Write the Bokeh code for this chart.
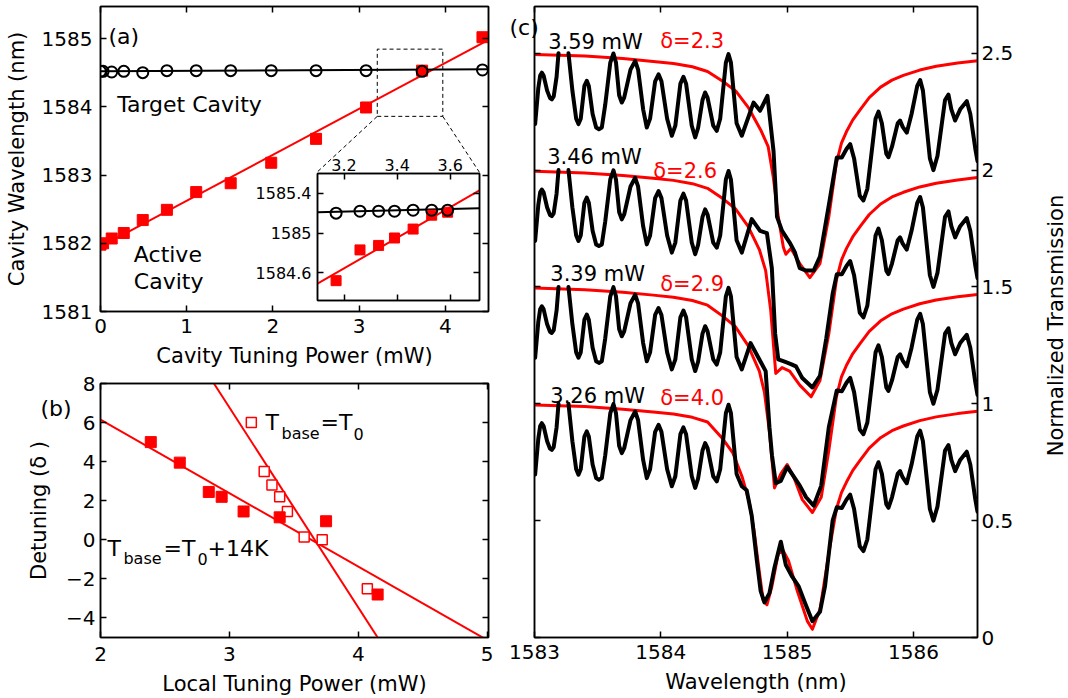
import math
import numpy as np
from bokeh.plotting import figure
from bokeh.models import Range1d, LinearAxis, FixedTicker, Label, CustomJSTickFormatter
from bokeh.layouts import column, row
from bokeh.embed import file_html
from bokeh.resources import INLINE

FONT = "DejaVu Sans"
NaN = float("nan")

# ---------------- Panel (a) data ----------------
tuning_power_a = [0.0, 0.03, 0.13, 0.27, 0.49, 0.77, 1.11, 1.51, 1.98, 2.50, 3.08, 3.73, 4.43]
active_wl_a = [1581.98, 1582.00, 1582.07, 1582.15, 1582.34, 1582.49, 1582.75, 1582.88, 1583.18, 1583.53, 1583.99, 1584.53, 1585.02]
target_wl_a = [1584.52, 1584.52, 1584.51, 1584.52, 1584.50, 1584.53, 1584.53, 1584.53, 1584.53, 1584.53, 1584.53, 1584.52, 1584.54]
fit_active_x = [0.0, 4.5]
fit_active_y = [1581.95, 1584.98]
fit_target_x = [0.0, 4.5]
fit_target_y = [1584.52, 1584.55]
zoom_box_x = [3.21, 3.97, 3.97, 3.21, 3.21]
zoom_box_y = [1583.86, 1583.86, 1584.845, 1584.845, 1583.86]
connector_l_x = [3.21, 2.51]
connector_r_x = [3.97, 4.395]
connector_y = [1583.86, 1583.04]

# inset of (a)
inset_power = [3.17, 3.26, 3.33, 3.39, 3.46, 3.53, 3.59]
inset_active = [1584.52, 1584.83, 1584.875, 1584.95, 1585.04, 1585.18, 1585.21]
inset_target = [1585.20, 1585.22, 1585.22, 1585.22, 1585.23, 1585.23, 1585.23]
inset_fit_x = [3.1, 3.71]
inset_fit_active_y = [1584.49, 1585.43]
inset_fit_target_y = [1585.21, 1585.25]

# ---------------- Panel (b) data ----------------
hot_power_b = [2.39, 2.615, 2.84, 2.94, 3.11, 3.39, 3.75, 4.15]
hot_detuning_b = [5.0, 3.95, 2.45, 2.2, 1.45, 1.15, 0.95, -2.8]
cold_power_b = [3.17, 3.27, 3.33, 3.39, 3.45, 3.58, 3.72, 4.07]
cold_detuning_b = [6.0, 3.5, 2.8, 2.2, 1.45, 0.15, 0.0, -2.5]
fit_hot_x = [2.0, 5.01]
fit_hot_y = [6.15, -5.17]
fit_cold_x = [2.88, 4.15]
fit_cold_y = [8.0, -5.0]

# ---------------- Panel (c) data ----------------
trace_powers = ["3.59 mW", "3.46 mW", "3.39 mW", "3.26 mW"]
trace_deltas = ["\u03b4=2.3", "\u03b4=2.6", "\u03b4=2.9", "\u03b4=4.0"]
trace_offsets = [1.5, 1.0, 0.5, 0.0]

# measured transmission: common ripple left / right of the resonance
ripple_l_wl = [1583.005, 1583.03, 1583.045, 1583.058, 1583.072, 1583.10, 1583.123, 1583.137, 1583.152,
               1583.175, 1583.190, NaN, 1583.269, 1583.30, 1583.33, 1583.348, 1583.366, 1583.395,
               1583.414, 1583.43, 1583.46, 1583.488, 1583.51, 1583.533, 1583.56, 1583.60, 1583.625,
               1583.645, 1583.67, 1583.691, 1583.71, 1583.76, 1583.797, 1583.82, 1583.86, 1583.889,
               1583.915, 1583.955, 1583.982, 1584.005, 1584.05, 1584.087, 1584.115, 1584.155, 1584.179,
               1584.20, 1584.245, 1584.272, 1584.295, 1584.33, 1584.351, 1584.37, 1584.415, 1584.443,
               1584.47, 1584.515, 1584.536, 1584.555, 1584.60, 1584.641]
ripple_l_t = [0.697, 0.85, 0.905, 0.917, 0.905, 0.84, 0.808, 0.803, 0.815,
              0.90, 1.0, NaN, 1.0, 0.84, 0.72, 0.697, 0.72, 0.86,
              0.882, 0.86, 0.74, 0.682, 0.675, 0.682, 0.78, 0.96, 0.999,
              0.96, 0.82, 0.789, 0.81, 0.93, 0.967, 0.93, 0.76, 0.682,
              0.72, 0.88, 0.910, 0.88, 0.72, 0.647, 0.69, 0.87, 0.899,
              0.87, 0.69, 0.640, 0.68, 0.80, 0.832, 0.81, 0.69, 0.668,
              0.72, 0.96, 0.996, 0.96, 0.70, 0.647]
ripple_r_wl = [1585.433, 1585.47, 1585.499, 1585.53, 1585.575, 1585.604, 1585.635, 1585.70, 1585.723,
               1585.75, 1585.785, 1585.802, 1585.83, 1585.875, 1585.894, 1585.915, 1585.947, 1585.985,
               1586.03, 1586.053, 1586.075, 1586.13, 1586.158, 1586.19, 1586.25, 1586.277, 1586.30,
               1586.33, 1586.37, 1586.422, 1586.45, 1586.49, 1586.507]
ripple_r_t = [0.554, 0.59, 0.611, 0.55, 0.39, 0.37, 0.42, 0.72, 0.75,
              0.70, 0.57, 0.555, 0.60, 0.70, 0.712, 0.685, 0.66, 0.74,
              0.86, 0.885, 0.84, 0.55, 0.50, 0.56, 0.80, 0.823, 0.76,
              0.712, 0.76, 0.795, 0.74, 0.59, 0.538]

# measured transmission around the resonance, per trace
dip359_wl = [1584.734, 1584.786, 1584.844, 1584.892, 1584.92, 1584.96, 1585.02, 1585.06, 1585.10,
             1585.15, 1585.21, 1585.26, 1585.33, 1585.393]
dip359_t = [0.789, 0.754, 0.818, 0.583, 0.30, 0.24, 0.19, 0.15, 0.08, 0.07, 0.07, 0.13, 0.35, 0.554]
dip346_wl = [1584.72, 1584.786, 1584.84, 1584.879, 1584.905, 1584.93, 1584.98, 1585.03, 1585.07,
             1585.12, 1585.2, 1585.26, 1585.31, 1585.36, 1585.393]
dip346_t = [0.79, 0.74, 0.73, 0.58, 0.30, 0.19, 0.18, 0.17, 0.16, 0.11, 0.07, 0.12, 0.28, 0.47, 0.554]
dip339_wl = [1584.71, 1584.79, 1584.83, 1584.86, 1584.88, 1584.91, 1584.95, 1585.0, 1585.05, 1585.10,
             1585.15, 1585.21, 1585.27, 1585.33, 1585.393]
dip339_t = [0.76, 0.68, 0.64, 0.40, 0.28, 0.16, 0.17, 0.23, 0.19, 0.15, 0.10, 0.064, 0.15, 0.40, 0.557]
dip326_wl = [1584.68, 1584.72, 1584.76, 1584.79, 1584.82, 1584.86, 1584.90, 1584.95, 1584.99, 1585.04,
             1585.09, 1585.14, 1585.20, 1585.26, 1585.30, 1585.36, 1585.393]
dip326_t = [0.63, 0.52, 0.33, 0.20, 0.15, 0.19, 0.30, 0.41, 0.31, 0.26, 0.22, 0.15, 0.07, 0.11, 0.22, 0.50, 0.557]

# coupled-mode fits: common wings plus per-trace resonance part
fit_l_wl = [1583.0, 1583.4, 1583.7, 1583.94, 1584.1, 1584.25, 1584.37]
fit_l_t = [0.995, 0.988, 0.977, 0.965, 0.956, 0.942, 0.922]
fit_r_wl = [1585.52, 1585.58, 1585.65, 1585.74, 1585.83, 1585.92, 1586.05, 1586.18, 1586.35, 1586.507]
fit_r_t = [0.715, 0.76, 0.81, 0.855, 0.885, 0.905, 0.928, 0.944, 0.958, 0.968]
fit359_wl = [1584.49, 1584.594, 1584.695, 1584.795, 1584.85, 1584.89, 1584.93, 1584.97, 1584.99, 1585.03,
             1585.10, 1585.18, 1585.26, 1585.33, 1585.39, 1585.43, 1585.47]
fit359_t = [0.880, 0.838, 0.766, 0.667, 0.60, 0.47, 0.30, 0.17, 0.14, 0.165, 0.10, 0.04, 0.10, 0.30, 0.53,
            0.615, 0.665]
fit346_wl = [1584.49, 1584.59, 1584.69, 1584.78, 1584.83, 1584.87, 1584.91, 1584.96, 1585.02, 1585.10,
             1585.19, 1585.26, 1585.33, 1585.39, 1585.43, 1585.47]
fit346_t = [0.878, 0.835, 0.76, 0.66, 0.57, 0.40, 0.13, 0.155, 0.14, 0.08, 0.03, 0.10, 0.30, 0.53, 0.615,
            0.665]
fit339_wl = [1584.49, 1584.59, 1584.69, 1584.78, 1584.82, 1584.86, 1584.90, 1584.95, 1585.0, 1585.05,
             1585.12, 1585.2, 1585.27, 1585.33, 1585.39, 1585.43, 1585.47]
fit339_t = [0.875, 0.83, 0.75, 0.64, 0.55, 0.38, 0.14, 0.20, 0.24, 0.19, 0.09, 0.035, 0.10, 0.30, 0.53,
            0.615, 0.665]
fit326_wl = [1584.49, 1584.57, 1584.645, 1584.70, 1584.74, 1584.78, 1584.81, 1584.84, 1584.88, 1584.93,
             1584.97, 1585.01, 1585.08, 1585.16, 1585.2, 1585.26, 1585.33, 1585.39, 1585.43, 1585.47]
fit326_t = [0.85, 0.79, 0.685, 0.58, 0.45, 0.28, 0.16, 0.14, 0.22, 0.36, 0.37, 0.33, 0.20, 0.07, 0.035,
            0.12, 0.36, 0.55, 0.62, 0.665]

dips_wl = [dip359_wl, dip346_wl, dip339_wl, dip326_wl]
dips_t = [dip359_t, dip346_t, dip339_t, dip326_t]
fits_wl = [fit359_wl, fit346_wl, fit339_wl, fit326_wl]
fits_t = [fit359_t, fit346_t, fit339_t, fit326_t]

PLAIN = CustomJSTickFormatter(code="return tick.toString();")


def style_axis(ax, labels=True, tick_size="20px"):
    ax.major_tick_in = 6
    ax.major_tick_out = 0
    ax.minor_tick_in = 0
    ax.minor_tick_out = 0
    ax.axis_line_color = "black"
    ax.axis_line_width = 1.5
    ax.major_tick_line_color = "black"
    ax.major_tick_line_width = 1.5
    ax.major_label_text_font = FONT
    ax.major_label_text_color = "black"
    ax.axis_label_text_font = FONT
    ax.axis_label_text_font_style = "normal"
    ax.axis_label_text_font_size = "21px"
    ax.axis_label_text_color = "black"
    if labels:
        ax.major_label_text_font_size = tick_size
    else:
        ax.major_label_text_font_size = "1px"
        ax.major_label_text_color = None
        ax.major_label_standoff = 0


def base_fig(**kw):
    p = figure(output_backend="svg", toolbar_location=None, **kw)
    p.grid.visible = False
    p.outline_line_color = "black"
    p.outline_line_width = 1.5
    p.background_fill_color = "white"
    p.border_fill_color = "white"
    return p


def mirror(p, side, ticks):
    ax = LinearAxis(ticker=FixedTicker(ticks=ticks))
    style_axis(ax, labels=False)
    p.add_layout(ax, side)
    return ax


def label(p, x, y, text, size="22px", color="black", **kw):
    kw.setdefault("text_baseline", "alphabetic")
    p.add_layout(Label(x=x, y=y, text=text, text_font=FONT, text_font_size=size,
                       text_color=color, **kw))


# ================= Panel (a) =================
pa = base_fig(width=500, height=370, x_range=Range1d(0, 4.5), y_range=Range1d(1581, 1585.47),
              min_border_left=100, min_border_right=12, min_border_top=6, min_border_bottom=56)
xa = pa.below[0]
ya = pa.left[0]
xa.ticker = FixedTicker(ticks=[0, 1, 2, 3, 4])
ya.ticker = FixedTicker(ticks=[1581, 1582, 1583, 1584, 1585])
ya.formatter = PLAIN
for ax in (xa, ya):
    style_axis(ax)
xa.axis_label = "Cavity Tuning Power (mW)"
ya.axis_label = "Cavity Wavelength (nm)"
xa.major_label_standoff = 7
xa.axis_label_standoff = 8
ya.major_label_standoff = 8
ya.axis_label_standoff = 10
mirror(pa, "above", [0, 1, 2, 3, 4])
mirror(pa, "right", [1581, 1582, 1583, 1584, 1585])

pa.line(zoom_box_x, zoom_box_y, line_color="black", line_width=1, line_dash="4 3")
pa.line(connector_l_x, connector_y, line_color="black", line_width=1, line_dash="4 3")
pa.line(connector_r_x, connector_y, line_color="black", line_width=1, line_dash="4 3")
pa.line(fit_active_x, fit_active_y, line_color="red", line_width=2)
pa.line(fit_target_x, fit_target_y, line_color="black", line_width=2)
pa.scatter(tuning_power_a, active_wl_a, marker="square", size=11, fill_color="red", line_color="red")
pa.scatter(tuning_power_a, target_wl_a, marker="circle", size=11, fill_color=None, line_color="black",
           line_width=2)
label(pa, 0.093, 1585.03, "(a)")
label(pa, 0.193, 1584.03, "Target Cavity")
label(pa, 0.387, 1581.83, "Active")
label(pa, 0.387, 1581.44, "Cavity")

# ================= Inset of (a) =================
ins = base_fig(width=235, height=163, x_range=Range1d(3.1, 3.71), y_range=Range1d(1584.32, 1585.6),
               x_axis_location="above",
               min_border_left=67, min_border_right=6, min_border_top=28, min_border_bottom=8)
ins.border_fill_color = None
xi = ins.above[0]
yi = ins.left[0]
xi.ticker = FixedTicker(ticks=[3.2, 3.4, 3.6])
yi.ticker = FixedTicker(ticks=[1584.6, 1585.0, 1585.4])
xi.formatter = PLAIN
yi.formatter = PLAIN
style_axis(xi, tick_size="16px")
style_axis(yi, tick_size="16px")
xi.major_label_standoff = 3
yi.major_label_standoff = 6
mirror(ins, "below", [3.2, 3.4, 3.6])
mirror(ins, "right", [1584.6, 1585.0, 1585.4])
ins.line(inset_fit_x, inset_fit_active_y, line_color="red", line_width=2)
ins.line(inset_fit_x, inset_fit_target_y, line_color="black", line_width=2)
ins.scatter(inset_power, inset_active, marker="square", size=10, fill_color="red", line_color="red")
ins.scatter(inset_power, inset_target, marker="circle", size=11, fill_color=None, line_color="black",
            line_width=2)
ins.styles = {"position": "absolute", "left": "250px", "top": "145px", "z-index": "5"}

# ================= Panel (b) =================
pb = base_fig(width=500, height=328, x_range=Range1d(2, 5.01), y_range=Range1d(-5, 8),
              min_border_left=100, min_border_right=12, min_border_top=13, min_border_bottom=61)
xb = pb.below[0]
yb = pb.left[0]
xb.ticker = FixedTicker(ticks=[2, 3, 4, 5])
yb.ticker = FixedTicker(ticks=[-4, -2, 0, 2, 4, 6, 8])
for ax in (xb, yb):
    style_axis(ax)
xb.axis_label = "Local Tuning Power (mW)"
yb.axis_label = "Detuning (\u03b4 )"
xb.major_label_standoff = 9
xb.axis_label_standoff = 8
yb.major_label_standoff = 5
yb.axis_label_standoff = 12
mirror(pb, "above", [2, 3, 4, 5])
mirror(pb, "right", [-4, -2, 0, 2, 4, 6, 8])

pb.line(fit_hot_x, fit_hot_y, line_color="red", line_width=2)
pb.line(fit_cold_x, fit_cold_y, line_color="red", line_width=2)
pb.scatter(cold_power_b, cold_detuning_b, marker="square", size=10, fill_color="white", line_color="red",
           line_width=1.5)
pb.scatter(hot_power_b, hot_detuning_b, marker="square", size=11, fill_color="red", line_color="red")
# T_base = T_0
label(pb, 3.28, 6.0, "T")
label(pb, 3.404, 5.44, "base", size="16px")
label(pb, 3.707, 6.0, "=T")
label(pb, 3.963, 5.44, "0", size="16px")
# T_base = T_0 + 14K
label(pb, 2.054, -0.46, "T")
label(pb, 2.178, -0.97, "base", size="16px")
label(pb, 2.489, -0.46, "=T")
label(pb, 2.753, -0.97, "0", size="16px")
label(pb, 2.830, -0.46, "+14K")

# ================= Panel (c) =================
pc = base_fig(width=568, height=698, x_range=Range1d(1583, 1586.507), y_range=Range1d(0, 2.7),
              y_axis_location="right",
              min_border_left=34, min_border_right=91, min_border_top=6, min_border_bottom=61)
xc = pc.below[0]
yc = pc.right[0]
xc.ticker = FixedTicker(ticks=[1583, 1584, 1585, 1586])
yc.ticker = FixedTicker(ticks=[0, 0.5, 1, 1.5, 2, 2.5])
yc.formatter = PLAIN
for ax in (xc, yc):
    style_axis(ax)
xc.axis_label = "Wavelength (nm)"
xc.major_label_standoff = 7
xc.axis_label_standoff = 8
yc.major_label_standoff = 4
mirror(pc, "above", [1583, 1584, 1585, 1586])
mirror(pc, "left", [0, 0.5, 1, 1.5, 2, 2.5])

for i in range(4):
    rx = fit_l_wl + fits_wl[i] + fit_r_wl
    rt = np.array(fit_l_t + fits_t[i] + fit_r_t) + trace_offsets[i]
    pc.line(rx, rt, line_color="red", line_width=3, line_join="round")
for i in range(4):
    bx = ripple_l_wl + dips_wl[i] + ripple_r_wl
    bt = np.array(ripple_l_t + dips_t[i] + ripple_r_t) + trace_offsets[i]
    pc.line(bx, bt, line_color="black", line_width=4, line_join="round", line_cap="round")

power_pos_x = [1583.108, 1583.10, 1583.125, 1583.125]
power_pos_y = [2.547, 2.055, 1.557, 1.035]
delta_pos_x = [1583.995, 1583.94, 1583.995, 1583.995]
delta_pos_y = [2.554, 1.998, 1.514, 1.026]
for i in range(4):
    label(pc, power_pos_x[i], power_pos_y[i], trace_powers[i], size="21px")
    label(pc, delta_pos_x[i], delta_pos_y[i], trace_deltas[i], size="21px", color="red")

# ============ page-level annotation layer (panel letters, right axis title), in page pixels ============
ov = figure(width=1068, height=698, x_range=Range1d(0, 1068), y_range=Range1d(637, 6),
            x_axis_type=None, y_axis_type=None, output_backend="svg", toolbar_location=None,
            title=None, min_border=0,
            min_border_left=0, min_border_right=0, min_border_top=6, min_border_bottom=61)
ov.grid.visible = False
ov.outline_line_color = None
ov.background_fill_color = None
ov.border_fill_color = None
label(ov, 40, 408, "(b)")
label(ov, 509, 27, "(c)")
label(ov, 1055, 325, "Normalized Transmission", size="21px", angle=math.pi / 2, text_align="center",
      text_baseline="middle")
ov.styles = {"position": "absolute", "left": "0px", "top": "0px", "z-index": "6",
             "pointer-events": "none"}

root = column(row(column(pa, pb), pc, ov), ins)
open("out.html", "w").write(file_html(root, INLINE))
